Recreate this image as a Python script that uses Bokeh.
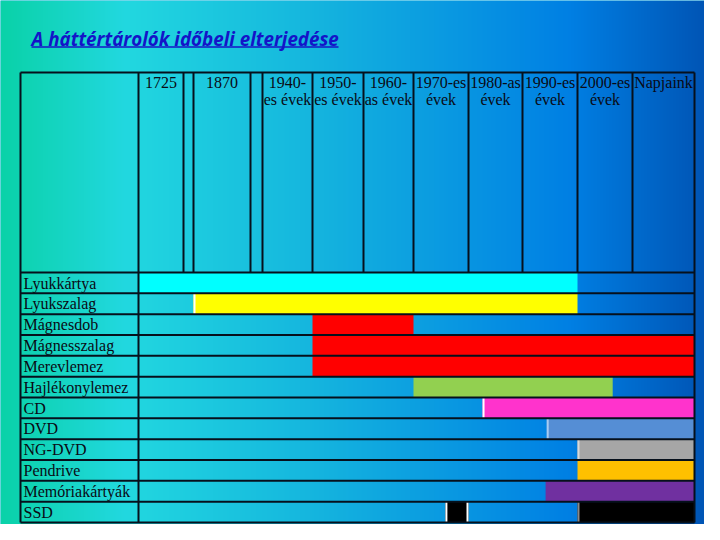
import numpy as np
from bokeh.plotting import figure
from bokeh.models import Range1d, Label, ColumnDataSource
from bokeh.core.properties import value
from bokeh.embed import file_html
from bokeh.resources import INLINE

# ---------------- data ----------------
title_text = "A háttértárolók időbeli elterjedése"

period_line1 = ["1725", "", "1870", "", "1940-", "1950-", "1960-",
                "1970-es", "1980-as", "1990-es", "2000-es", "Napjaink"]
period_line2 = ["", "", "", "", "es évek", "es évek", "as évek",
                "évek", "évek", "évek", "évek", ""]

storage = ["Lyukkártya", "Lyukszalag", "Mágnesdob", "Mágnesszalag",
           "Merevlemez", "Hajlékonylemez", "CD", "DVD", "NG-DVD",
           "Pendrive", "Memóriakártyák", "SSD"]

# spans measured in period-column units (0 = start of the 1725 column)
bar_storage = ["Lyukkártya", "Lyukszalag", "Mágnesdob", "Mágnesszalag",
               "Merevlemez", "Hajlékonylemez", "CD", "DVD", "NG-DVD",
               "Pendrive", "Memóriakártyák", "SSD", "SSD"]
bar_start = [0, 2, 5, 5, 5, 7, 8.26, 9.44, 10, 10, 9.42, 7.58, 10]
bar_end = [10, 10, 7, 12, 12, 10.64, 12, 12, 12, 12, 12, 8, 12]

# ---------------- styling / layout ----------------
colors = {
    "Lyukkártya": "#00FFFF", "Lyukszalag": "#FFFF00", "Mágnesdob": "#FF0000",
    "Mágnesszalag": "#FF0000", "Merevlemez": "#FF0000",
    "Hajlékonylemez": "#92D050", "CD": "#FF33CC", "DVD": "#558ED5",
    "NG-DVD": "#A6A6A6", "Pendrive": "#FFC000",
    "Memóriakártyák": "#7030A0", "SSD": "#000000",
}
edge_marks = {1: ["#FFFFFF", None], 6: ["#FFFFFF", None], 7: ["#A8CCF2", None],
              8: ["#D8D8D8", None], 11: ["#FFFFFF", "#FFFFFF"], 12: ["#8A8A8A", None]}

col_widths = [45, 10, 57, 12, 50, 51, 50, 55, 54, 55, 55, 62]
TABLE_L, LABEL_R = 20, 138
TOP, HEAD_B, BOTTOM = 72, 272, 522
col_edges = LABEL_R + np.concatenate([[0], np.cumsum(col_widths)])
TABLE_R = col_edges[-1]
n_rows = len(storage)
rh = (BOTTOM - HEAD_B) / n_rows
row_top = {s: HEAD_B + i * rh for i, s in enumerate(storage)}
col_idx = np.arange(len(col_edges))
TXT = 6.0  # text baseline correction

def to_x(v):
    return np.interp(v, col_idx, col_edges)

W, H = 704, 524
p = figure(width=W, height=H, output_backend="svg", toolbar_location=None,
           x_range=Range1d(0, W), y_range=Range1d(H, 0),
           min_border=0, outline_line_color=None)
p.axis.visible = False
p.grid.visible = False
p.background_fill_color = "#10B0DC"
p.border_fill_color = "#10B0DC"

# gradient background
stops_x = [0, 125, 300, 568, 720]
stops_rgb = np.array([(10, 210, 168), (34, 216, 224), (22, 184, 222),
                      (0, 128, 228), (0, 80, 176)], dtype=float)
xs = np.arange(W) + 0.5
img = np.empty((2, W), dtype=np.uint32)
view = img.view(dtype=np.uint8).reshape((2, W, 4))
for c in range(3):
    view[:, :, c] = np.interp(xs, stops_x, stops_rgb[:, c]).astype(np.uint8)
view[:, :, 3] = 255
p.image_rgba(image=[img], x=0, y=0, dw=W, dh=H)

# bars
left = to_x(np.array(bar_start))
right = to_x(np.array(bar_end))
tops = np.array([row_top[s] for s in bar_storage])
src = ColumnDataSource(dict(left=left, right=right, top=tops, bottom=tops + rh,
                            color=[colors[s] for s in bar_storage]))
p.quad(left="left", right="right", top="top", bottom="bottom", source=src,
       fill_color="color", line_color=None)

# light edges between cells
ex0, ey0, ex1, ey1, ec = [], [], [], [], []
for i, (cl, cr) in edge_marks.items():
    for xpos, c in ((left[i] + 1, cl), (right[i] - 1, cr)):
        if c:
            ex0.append(xpos); ex1.append(xpos)
            ey0.append(tops[i]); ey1.append(tops[i] + rh)
            ec.append(c)
p.segment(x0=ex0, y0=ey0, x1=ex1, y1=ey1, line_color=ec, line_width=2)

# table grid
gx0, gy0, gx1, gy1 = [], [], [], []
for yy in [TOP, HEAD_B] + [HEAD_B + i * rh for i in range(1, n_rows)] + [BOTTOM]:
    gx0.append(TABLE_L); gx1.append(TABLE_R); gy0.append(yy); gy1.append(yy)
for xx in [TABLE_L, LABEL_R, TABLE_R]:
    gx0.append(xx); gx1.append(xx); gy0.append(TOP); gy1.append(BOTTOM)
for xx in col_edges[1:-1]:
    gx0.append(xx); gx1.append(xx); gy0.append(TOP); gy1.append(HEAD_B)
p.segment(x0=gx0, y0=gy0, x1=gx1, y1=gy1, line_color="#06101c", line_width=2)

# header texts
centers = (col_edges[:-1] + col_edges[1:]) / 2
p.text(x=centers, y=[88 - TXT] * len(centers), text=period_line1,
       text_font=value("Liberation Serif"), text_font_size="16px",
       text_color="#0a0a14", text_align="center", text_baseline="alphabetic")
p.text(x=centers, y=[105 - TXT] * len(centers), text=period_line2,
       text_font=value("Liberation Serif"), text_font_size="16px",
       text_color="#0a0a14", text_align="center", text_baseline="alphabetic")

# row labels
p.text(x=[TABLE_L + 3] * n_rows, y=[row_top[s] + 16.5 - TXT for s in storage], text=storage,
       text_font=value("Liberation Serif"), text_font_size="16px",
       text_color="#0a0a14", text_align="left", text_baseline="alphabetic")

# title with underline
p.add_layout(Label(x=31, y=44 - TXT, text=title_text, text_font="Open Sans",
                   text_font_size="18.8px", text_font_style="bold italic",
                   text_color="#1414C8", text_baseline="alphabetic"))
p.segment(x0=[31], y0=[46.5], x1=[338], y1=[46.5], line_color="#1414C8", line_width=1.5)

open("out.html", "w").write(file_html(p, INLINE))
